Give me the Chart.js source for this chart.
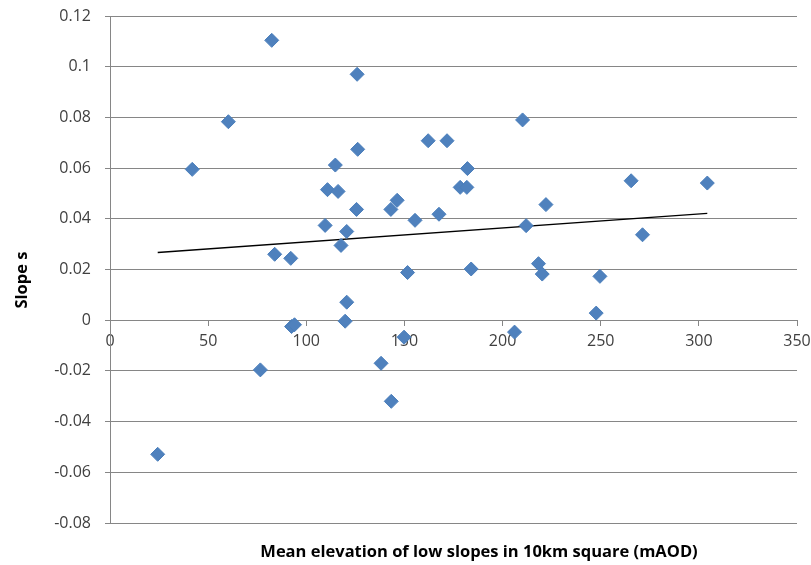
<!DOCTYPE html>
<html>
<head>
<meta charset="utf-8">
<script src="https://cdn.jsdelivr.net/npm/chart.js@4"></script>
<style>
  html, body { margin: 0; background: #fff; }
</style>
</head>
<body>
<canvas id="chart" width="811" height="565"></canvas>
<script>
// values
const elevation = [24.3, 41.9, 60.3, 76.6, 82.4, 83.9, 92.1, 92.5, 94, 109.6,
  110.8, 114.8, 116.2, 117.7, 119.8, 120.6, 120.6, 125.6, 125.9, 126.2,
  138.1, 143.1, 143.3, 146.3, 149.8, 151.6, 155.4, 162.1, 167.6, 171.7,
  178.4, 181.8, 182.1, 184, 206.1, 210.2, 212, 218.3, 220.2, 222.1,
  247.7, 249.6, 265.5, 271.3, 304.3];
const slope = [-0.0529, 0.0595, 0.0783, -0.0196, 0.1104, 0.0260, 0.0244, -0.0025, -0.0018, 0.0374,
  0.0515, 0.0612, 0.0508, 0.0295, -0.0004, 0.0350, 0.0071, 0.0437, 0.0970, 0.0674,
  -0.0170, 0.0437, -0.0320, 0.0473, -0.0067, 0.0188, 0.0394, 0.0708, 0.0418, 0.0708,
  0.0524, 0.0524, 0.0598, 0.0202, -0.0047, 0.0790, 0.0373, 0.0223, 0.0182, 0.0456,
  0.0028, 0.0173, 0.0550, 0.0337, 0.0541];

// linear trendline end points
const trendX = [24.3, 304.3];
const trendY = [0.0267, 0.0421];

const xTitle = "Mean elevation of low slopes in 10km square (mAOD)";
const yTitle = "Slope s";

const tickFont = { family: "'Open Sans', sans-serif", size: 16 };

// axis titles sit where Excel put them, not where Chart.js would
const axisTitles = {
  id: "axisTitles",
  afterDraw(chart) {
    const { ctx, chartArea } = chart;
    ctx.save();
    ctx.font = "bold 16.5px 'Open Sans', sans-serif";
    ctx.fillStyle = "#000";
    ctx.textAlign = "center";
    ctx.textBaseline = "middle";
    ctx.fillText(xTitle, chartArea.left + 369, chartArea.bottom + 29);
    ctx.translate(22, chartArea.top + 264);
    ctx.rotate(-Math.PI / 2);
    ctx.fillText(yTitle, 0, 0);
    ctx.restore();
  },
};

const ctx = document.getElementById("chart").getContext("2d");
new Chart(ctx, {
  type: "scatter",
  data: {
    datasets: [
      {
        label: "Slope",
        data: elevation.map((x, i) => ({ x: x, y: slope[i] })),
        pointStyle: "rectRot",
        pointRadius: 7,
        pointBackgroundColor: "#4F81BD",
        pointBorderColor: "#4A7EBB",
        pointBorderWidth: 1,
      },
      {
        type: "line",
        label: "Trend",
        data: trendX.map((x, i) => ({ x: x, y: trendY[i] })),
        borderColor: "#000",
        borderWidth: 1.3,
        pointRadius: 0,
        fill: false,
      },
    ],
  },
  options: {
    responsive: false,
    animation: false,
    layout: { padding: { top: 16, right: 14, bottom: 42, left: 0 } },
    plugins: {
      legend: { display: false },
      tooltip: { enabled: false },
    },
    scales: {
      x: {
        type: "linear",
        min: 0,
        max: 350,
        position: { y: 0 },
        ticks: { stepSize: 50, color: "#404040", font: tickFont, padding: 7 },
        grid: { drawOnChartArea: false, tickLength: 5, color: "#868686" },
        border: { color: "#868686" },
        afterFit(scale) { scale.paddingLeft = 0; scale.paddingRight = 0; },
      },
      y: {
        min: -0.08,
        max: 0.12,
        ticks: {
          stepSize: 0.02,
          color: "#404040",
          font: tickFont,
          padding: 14,
          callback: (v) => String(+v.toFixed(2)),
        },
        grid: { color: "#868686", tickLength: 5 },
        border: { color: "#868686" },
        afterFit(scale) {
          scale.width = 110;
          scale.paddingTop = 0;
          scale.paddingBottom = 0;
        },
      },
    },
  },
  plugins: [axisTitles],
});
</script>
</body>
</html>
